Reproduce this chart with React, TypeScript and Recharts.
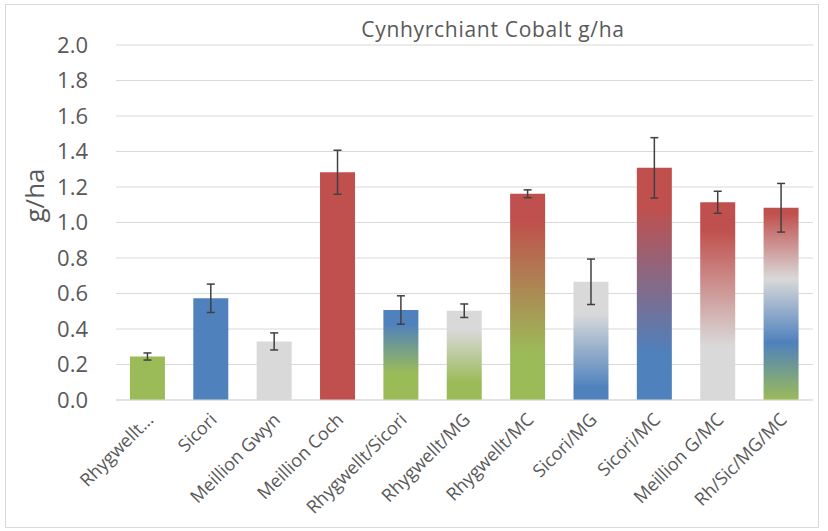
import { BarChart, Bar, XAxis, YAxis, CartesianGrid, Cell, ErrorBar } from 'recharts'

const categories = [
  'Rhygwellt...',
  'Sicori',
  'Meillion Gwyn',
  'Meillion Coch',
  'Rhygwellt/Sicori',
  'Rhygwellt/MG',
  'Rhygwellt/MC',
  'Sicori/MG',
  'Sicori/MC',
  'Meillion G/MC',
  'Rh/Sic/MG/MC',
]
const values = [0.245, 0.573, 0.33, 1.283, 0.507, 0.503, 1.162, 0.666, 1.308, 1.114, 1.083]
const errors = [0.02, 0.08, 0.048, 0.124, 0.08, 0.038, 0.022, 0.128, 0.17, 0.062, 0.137]
const yTicks = [0, 0.2, 0.4, 0.6, 0.8, 1.0, 1.2, 1.4, 1.6, 1.8, 2.0]

const GREEN = '#9BBB59'
const BLUE = '#4F81BD'
const GRAY = '#D9D9D9'
const RED = '#C0504D'
const TEXT = '#595959'
const FONT = '"Open Sans", Lato, sans-serif'

// gradient stops for each bar, top (0) to bottom (1)
const GRADIENTS: [number, string][][] = [
  [[0, GREEN], [1, GREEN]],
  [[0, BLUE], [1, BLUE]],
  [[0, GRAY], [1, GRAY]],
  [[0, RED], [1, RED]],
  [[0.15, BLUE], [0.7, GREEN]],
  [[0.22, GRAY], [0.8, GREEN]],
  [[0.13, RED], [0.77, GREEN]],
  [[0.27, GRAY], [0.9, BLUE]],
  [[0.17, RED], [0.8, BLUE]],
  [[0.14, RED], [0.73, GRAY]],
  [[0.03, RED], [0.37, GRAY], [0.7, BLUE], [1, GREEN]],
]

const data = categories.map((name, i) => ({ name, value: values[i], err: errors[i] }))

const XTick = (props: any) => {
  const { x, y, payload } = props
  return (
    <g transform={`translate(${x + 4},${y + 10})`}>
      <text
        x={0}
        y={0}
        dy={4}
        textAnchor="end"
        transform="rotate(-45)"
        fill={TEXT}
        fontSize={18}
        fontFamily={FONT}
      >
        {payload.value}
      </text>
    </g>
  )
}

export default function App() {
  return (
    <div style={{ position: 'absolute', left: 0, top: 0, width: 828, height: 531, background: '#fff' }}>
      <div
        style={{
          position: 'absolute',
          left: 5,
          top: 4,
          width: 814,
          height: 524,
          border: '1px solid #d9d9d9',
          boxSizing: 'border-box',
        }}
      />
      <div
        style={{
          position: 'absolute',
          left: 0,
          top: 15,
          width: 986,
          textAlign: 'center',
          fontFamily: FONT,
          fontSize: 21,
          letterSpacing: 0.7,
          color: TEXT,
        }}
      >
        Cynhyrchiant Cobalt g/ha
      </div>
      <div style={{ position: 'absolute', left: 0, top: 0 }}>
        <BarChart
          width={828}
          height={531}
          data={data}
          margin={{ top: 45, right: 15, left: 0, bottom: 0 }}
          barCategoryGap="22%"
        >
          <defs>
            {GRADIENTS.map((stops, i) => (
              <linearGradient key={i} id={`g${i}`} x1="0" y1="0" x2="0" y2="1">
                {stops.map(([o, c], j) => (
                  <stop key={j} offset={o} stopColor={c} />
                ))}
              </linearGradient>
            ))}
          </defs>
          <CartesianGrid stroke="#d9d9d9" vertical={false} />
          <XAxis
            dataKey="name"
            interval={0}
            tick={<XTick />}
            tickLine={false}
            axisLine={{ stroke: '#d9d9d9' }}
            height={131}
          />
          <YAxis
            domain={[0, 2]}
            ticks={yTicks}
            interval={0}
            tickFormatter={(v: number) => v.toFixed(1)}
            tick={{ fill: TEXT, fontSize: 22, fontFamily: FONT }}
            axisLine={false}
            tickLine={false}
            width={116}
            tickMargin={22}
            label={{
              value: 'g/ha',
              angle: -90,
              position: 'insideLeft',
              offset: 35,
              fill: TEXT,
              fontSize: 26,
              fontFamily: FONT,
            }}
          />
          <Bar dataKey="value" isAnimationActive={false}>
            {data.map((_, i) => (
              <Cell key={i} fill={`url(#g${i})`} />
            ))}
            <ErrorBar dataKey="err" stroke="#404040" strokeWidth={1.5} width={4} />
          </Bar>
        </BarChart>
      </div>
    </div>
  )
}
